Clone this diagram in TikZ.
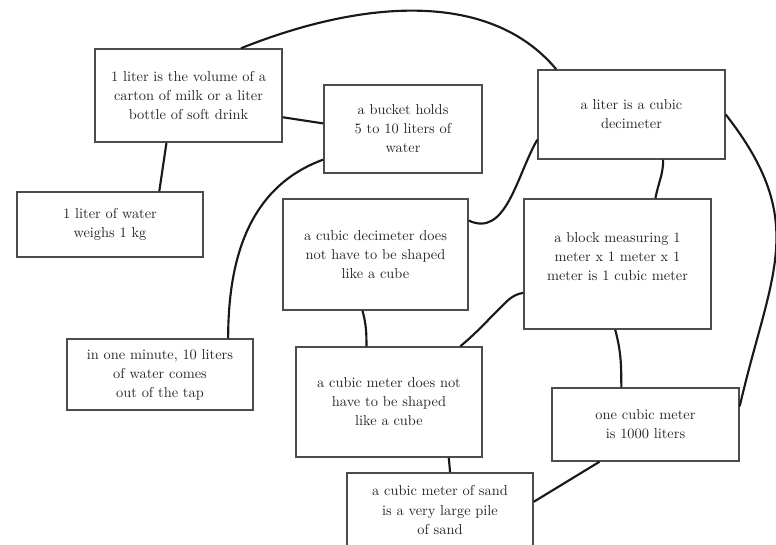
\documentclass[tikz,border=0pt]{standalone}
\begin{document}
\begin{tikzpicture}[x=0.75pt,y=-0.75pt,
    concept/.style={draw=black!70,line width=1.1pt,fill=white,align=center,inner sep=0pt,
      text=black!85,font=\fontsize{10.8}{14.3}\selectfont},
    link/.style={line width=1.6pt,black!90}]
  \useasboundingbox (0,0) rectangle (776,544);
  \node (milk) [concept,minimum width=140.25pt,minimum height=69.75pt] at (188.5,95.5)
    {1 liter is the volume of a\\carton of milk or a liter\\bottle of soft drink};
  \node (kg) [concept,minimum width=139.5pt,minimum height=48.75pt] at (110,224.5)
    {1 liter of water\\weighs 1 kg};
  \node (bucket) [concept,minimum width=118.5pt,minimum height=66pt] at (403,129)
    {a bucket holds\\5 to 10 liters of\\water};
  \node (dm) [concept,minimum width=140.25pt,minimum height=66.75pt] at (631.5,114.5)
    {a liter is a cubic\\decimeter};
  \node (dmshape) [concept,minimum width=138.75pt,minimum height=83.25pt] at (375.5,254.5)
    {a cubic decimeter does\\not have to be shaped\\like a cube};
  \node (block) [concept,minimum width=140.25pt,minimum height=97.5pt] at (617.5,264)
    {a block measuring 1\\meter x 1 meter x 1\\meter is 1 cubic meter\\[-3pt]\mbox{}};
  \node (tap) [concept,minimum width=139.5pt,minimum height=53.25pt] at (160,374.5)
    {in one minute, 10 liters\\of water comes\\out of the tap};
  \node (mshape) [concept,minimum width=139.5pt,minimum height=82.5pt] at (389,402)
    {a cubic meter does not\\have to be shaped\\like a cube};
  \node (thousand) [concept,minimum width=140.25pt,minimum height=54.75pt] at (645.5,424.5)
    {one cubic meter\\is 1000 liters};
  \node (sand) [concept,minimum width=139.5pt,minimum height=55.5pt] at (440,510)
    {a cubic meter of sand\\is a very large pile\\of sand};
  % connectors
  \draw [link] (milk.42) .. controls +(125,-50) and +(-65,-78) .. (dm.149);
  \draw [link] (milk.-13) -- (bucket.176);
  \draw [link] (milk.-115) -- (kg.34);
  \draw [link] (bucket.-159) to[out=200,in=90] (tap.28);
  \draw [link] (dmshape.20) to[out=-25,in=240] (dm.195);
  \draw [link] (dm.-55) to[out=-90,in=80] (block.60);
  \draw [link] (dmshape.-103) to[out=-75,in=90] (mshape.112);
  \draw [link] (block.197) to[out=190,in=45] ++(-24,16) to[out=225,in=40] (mshape.38);
  \draw [link] (block.-92) to[out=-75,in=90] (thousand.123);
  \draw [link] (dm.east) to[out=-52,in=77,looseness=1.2] (thousand.11);
  \draw [link] (sand.5) -- (thousand.-141);
  \draw [link] (mshape.-43) -- (sand.75);
\end{tikzpicture}
\end{document}
